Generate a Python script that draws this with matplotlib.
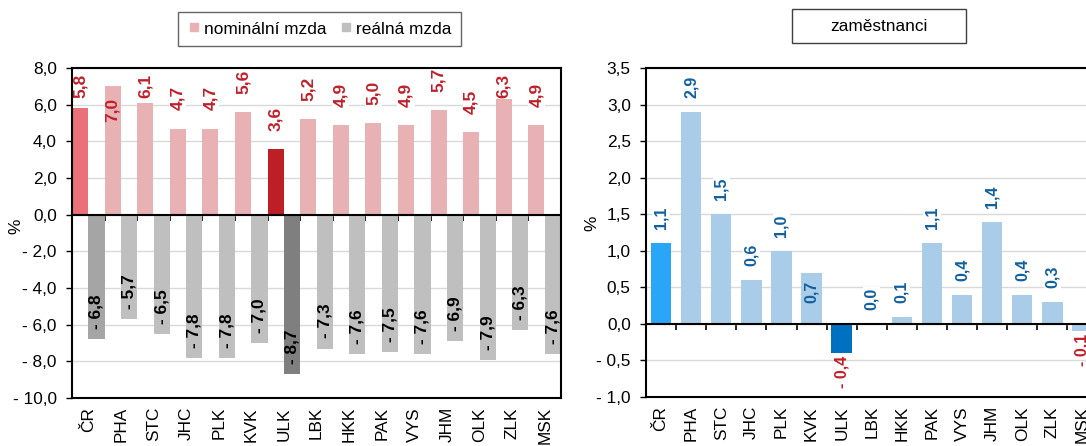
import numpy as np
import matplotlib
matplotlib.use('Agg')
import matplotlib.pyplot as plt
from matplotlib.lines import Line2D
from matplotlib.patches import Rectangle

# ---------------- data ----------------
regions = ['ČR', 'PHA', 'STC', 'JHC', 'PLK', 'KVK', 'ULK', 'LBK', 'HKK', 'PAK',
           'VYS', 'JHM', 'OLK', 'ZLK', 'MSK']
nominal = [5.8, 7.0, 6.1, 4.7, 4.7, 5.6, 3.6, 5.2, 4.9, 5.0, 4.9, 5.7, 4.5, 6.3, 4.9]
real = [-6.8, -5.7, -6.5, -7.8, -7.8, -7.0, -8.7, -7.3, -7.6, -7.5, -7.6, -6.9, -7.9, -6.3, -7.6]
employees = [1.1, 2.9, 1.5, 0.6, 1.0, 0.7, -0.4, 0.0, 0.1, 1.1, 0.4, 1.4, 0.4, 0.3, -0.1]
left_yticks = [-10, -8, -6, -4, -2, 0, 2, 4, 6, 8]
right_yticks = [-1.0, -0.5, 0.0, 0.5, 1.0, 1.5, 2.0, 2.5, 3.0, 3.5]
legend_labels = ['nominální mzda', 'reálná mzda']
right_title = 'zaměstnanci'

# ---------------- style ----------------
W, H = 1086, 446
FONT = 'Liberation Sans'
FS = 12.4
plt.rcParams['font.family'] = [FONT, 'DejaVu Sans']

NOM_BASE, NOM_CR, NOM_ULK = '#E8B1B4', '#EA7079', '#BE1E26'
REAL_BASE, REAL_CR, REAL_ULK = '#BFBFBF', '#A5A5A5', '#7F7F7F'
EMP_BASE, EMP_CR, EMP_ULK = '#A9CDE8', '#2AA6F9', '#0070C0'
RED_TXT = '#C0202A'
BLUE_TXT = '#11609F'
GRID = '#D9D9D9'
inside_emp_labels = {'KVK'}


def pick(name, base, cr, ulk):
    if name == 'ČR':
        return cr
    if name == 'ULK':
        return ulk
    return base


def cz(v):
    s = f"{abs(v):.1f}".replace('.', ',')
    return ('- ' + s) if round(v, 1) < 0 else s


fig = plt.figure(figsize=(W / 100, H / 100), dpi=100)
fig.patch.set_facecolor('white')

n = len(regions)
x = np.arange(n)


def style_axes(ax, ylim, yticks, zero_frac):
    ax.set_xlim(0, n)
    ax.set_ylim(*ylim)
    ax.set_yticks(yticks)
    ax.set_yticklabels([cz(v) for v in yticks], fontsize=FS)
    ax.set_xticks(x + 0.5)
    ax.set_xticklabels(regions, rotation=90, fontsize=FS)
    ax.tick_params(axis='x', length=0, pad=6.5)
    ax.tick_params(axis='y', direction='out', length=4, width=1, pad=7)
    ax.yaxis.grid(True, color=GRID, lw=1)
    ax.set_axisbelow(True)
    for s in ax.spines.values():
        s.set_color('black')
        s.set_linewidth(1.5)
        s.set_zorder(5)
    ax.axhline(0, color='black', lw=1.5, zorder=4)
    sec = ax.secondary_xaxis(zero_frac)
    sec.set_xticks(np.arange(n + 1))
    sec.set_alignment('bottom')
    sec.tick_params(axis='x', direction='out', length=4, width=1.2,
                    labelbottom=False, labeltop=False, colors='black')
    for s in sec.spines.values():
        s.set_visible(False)


def px_per_unit(ax):
    a = ax.transData.transform((0, 0))[1]
    b = ax.transData.transform((0, 1))[1]
    return b - a


# ---------------- left chart ----------------
ax1 = fig.add_axes([72 / W, (H - 398) / H, 489 / W, 330 / H])
style_axes(ax1, (-10, 8), left_yticks, 10 / 18)

nom_cols = [pick(r, NOM_BASE, NOM_CR, NOM_ULK) for r in regions]
real_cols = [pick(r, REAL_BASE, REAL_CR, REAL_ULK) for r in regions]
ax1.bar(x, nominal, width=0.49, align='edge', color=nom_cols, zorder=2)
ax1.bar(x + 0.5, real, width=0.5, align='edge', color=real_cols, zorder=2)

pu = px_per_unit(ax1)
top = 8.0
lab_len = 24 / pu
for i, v in enumerate(nominal):
    xc = i + 0.245
    start = v + 18 / pu
    end = start + lab_len
    if end > top + 1 / pu:
        end = top - 6 / pu
        start = end - lab_len
    if start < v - 4 / pu:
        ax1.text(xc, v - 12 / pu, cz(v), rotation=90, rotation_mode='anchor',
                 ha='right', va='center', color=RED_TXT, fontsize=FS,
                 fontweight='bold', zorder=3)
    else:
        ax1.text(xc, start, cz(v), rotation=90, rotation_mode='anchor',
                 ha='left', va='center', color=RED_TXT, fontsize=FS,
                 fontweight='bold', zorder=3, clip_on=True,
                 bbox=dict(facecolor='white', edgecolor='none', pad=0.8))
for i, v in enumerate(real):
    ax1.text(i + 0.75, v + 10 / pu, cz(v), rotation=90, rotation_mode='anchor',
             ha='left', va='center', color='black', fontsize=FS,
             fontweight='bold', zorder=3)

fig.text(16 / W, 1 - 226 / H, '%', rotation=90, fontsize=FS, ha='center', va='center')

handles = [Line2D([], [], ls='none', marker='s', markersize=5.5, color=NOM_BASE),
           Line2D([], [], ls='none', marker='s', markersize=5.5, color=REAL_BASE)]
leg = fig.legend(handles, legend_labels, loc='center', ncol=2,
                 bbox_to_anchor=(319.5 / W, 1 - 29 / H), fontsize=FS,
                 frameon=True, fancybox=False, edgecolor='#3F3F3F',
                 handlelength=0.75, handletextpad=0.2, columnspacing=0.8,
                 borderpad=0.55, borderaxespad=0)
leg.get_frame().set_linewidth(1.0)

# ---------------- right chart ----------------
ax2 = fig.add_axes([646 / W, (H - 397) / H, 451.5 / W, 329 / H])
style_axes(ax2, (-1.0, 3.5), right_yticks, 1.0 / 4.5)
emp_cols = [pick(r, EMP_BASE, EMP_CR, EMP_ULK) for r in regions]
ax2.bar(x + 0.5, employees, width=0.68, color=emp_cols, zorder=2)

pu2 = px_per_unit(ax2)
FS2 = 11.5
for i, (r, v) in enumerate(zip(regions, employees)):
    if v < 0:
        ax2.text(i + 0.5, v - 3 / pu2, cz(v), rotation=90, rotation_mode='anchor',
                 ha='right', va='center', color=RED_TXT, fontsize=FS2,
                 fontweight='bold', zorder=3)
    elif r in inside_emp_labels:
        ax2.text(i + 0.5, v - 8 / pu2, cz(v), rotation=90, rotation_mode='anchor',
                 ha='right', va='center', color=BLUE_TXT, fontsize=FS2,
                 fontweight='bold', zorder=3)
    else:
        ax2.text(i + 0.5, v + 14 / pu2, cz(v), rotation=90, rotation_mode='anchor',
                 ha='left', va='center', color=BLUE_TXT, fontsize=FS2,
                 fontweight='bold', zorder=3,
                 bbox=dict(facecolor='white', edgecolor='none', pad=0.8))

fig.text(592 / W, 1 - 223 / H, '%', rotation=90, fontsize=FS, ha='center', va='center')

# title box for right chart
fig.patches.append(Rectangle((792 / W, 1 - 43 / H), 174 / W, 34 / H,
                             transform=fig.transFigure, facecolor='white',
                             edgecolor='#3F3F3F', lw=1.0))
fig.text(879 / W, 1 - 26.5 / H, right_title, fontsize=FS, ha='center', va='center')

fig.savefig('out.png', dpi=100)
